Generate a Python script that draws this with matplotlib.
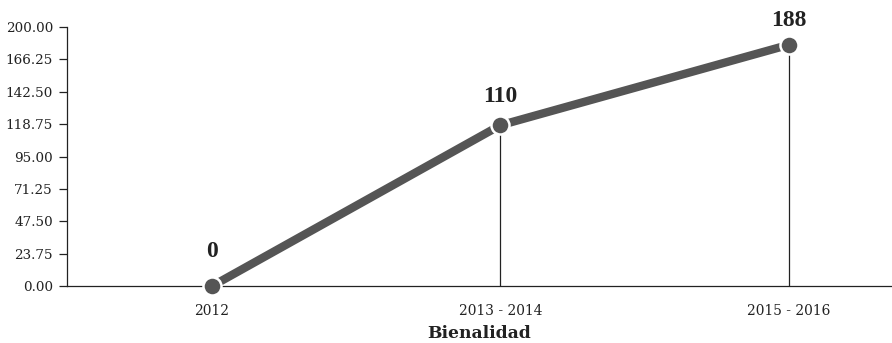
import matplotlib.pyplot as plt

# bienalidad chart
periods = ['2012', '2013 - 2014', '2015 - 2016']
heights = [0, 118, 177]          # plotted heights
value_labels = ['0', '110', '188']
ytick_vals = [0, 23.75, 47.5, 71.25, 95, 118.75, 142.5, 166.25, 190]
ytick_text = ['0.00', '23.75', '47.50', '71.25', '95.00', '118.75', '142.50', '166.25', '200.00']

plt.rcParams['font.family'] = 'DejaVu Serif'

fig = plt.figure(figsize=(8.92, 3.43), dpi=100)
ax = fig.add_axes([0.0751, 0.166, 0.9249, 0.755])

x = list(range(len(periods)))

# drop lines from each point to the axis
for xi, h in zip(x, heights):
    ax.plot([xi, xi], [0, h], color='#222222', lw=0.9, zorder=1)

ax.plot(x, heights, color='#555555', lw=6, solid_capstyle='butt', zorder=4, clip_on=False)
ax.plot(x, heights, 'o', ms=13, color='#555555', mec='white', mew=1.8, zorder=5, clip_on=False)

offsets = [17, 13, 10]
for xi, h, lab, off in zip(x, heights, value_labels, offsets):
    ax.annotate(lab, (xi, h), xytext=(0, off), textcoords='offset points',
                ha='center', va='bottom', fontsize=17, fontweight='bold',
                family='Liberation Serif', color='#222222')

ax.set_xlim(-0.503, 2.358)
ax.set_ylim(0, 190)
ax.set_yticks(ytick_vals)
ax.set_yticklabels(ytick_text)
ax.set_xticks(x)
ax.set_xticklabels(periods)
ax.tick_params(axis='y', length=6, width=0.9, labelsize=9.7, colors='#222222', pad=4)
ax.tick_params(axis='x', length=0, labelsize=9.9, colors='#222222', pad=13)
ax.set_xlabel('Bienalidad', fontsize=12.3, fontweight='bold', color='#222222', labelpad=5)

for s in ['top', 'right']:
    ax.spines[s].set_visible(False)
for s in ['left', 'bottom']:
    ax.spines[s].set_linewidth(0.9)
    ax.spines[s].set_color('#222222')

fig.savefig('out.png', dpi=100)
